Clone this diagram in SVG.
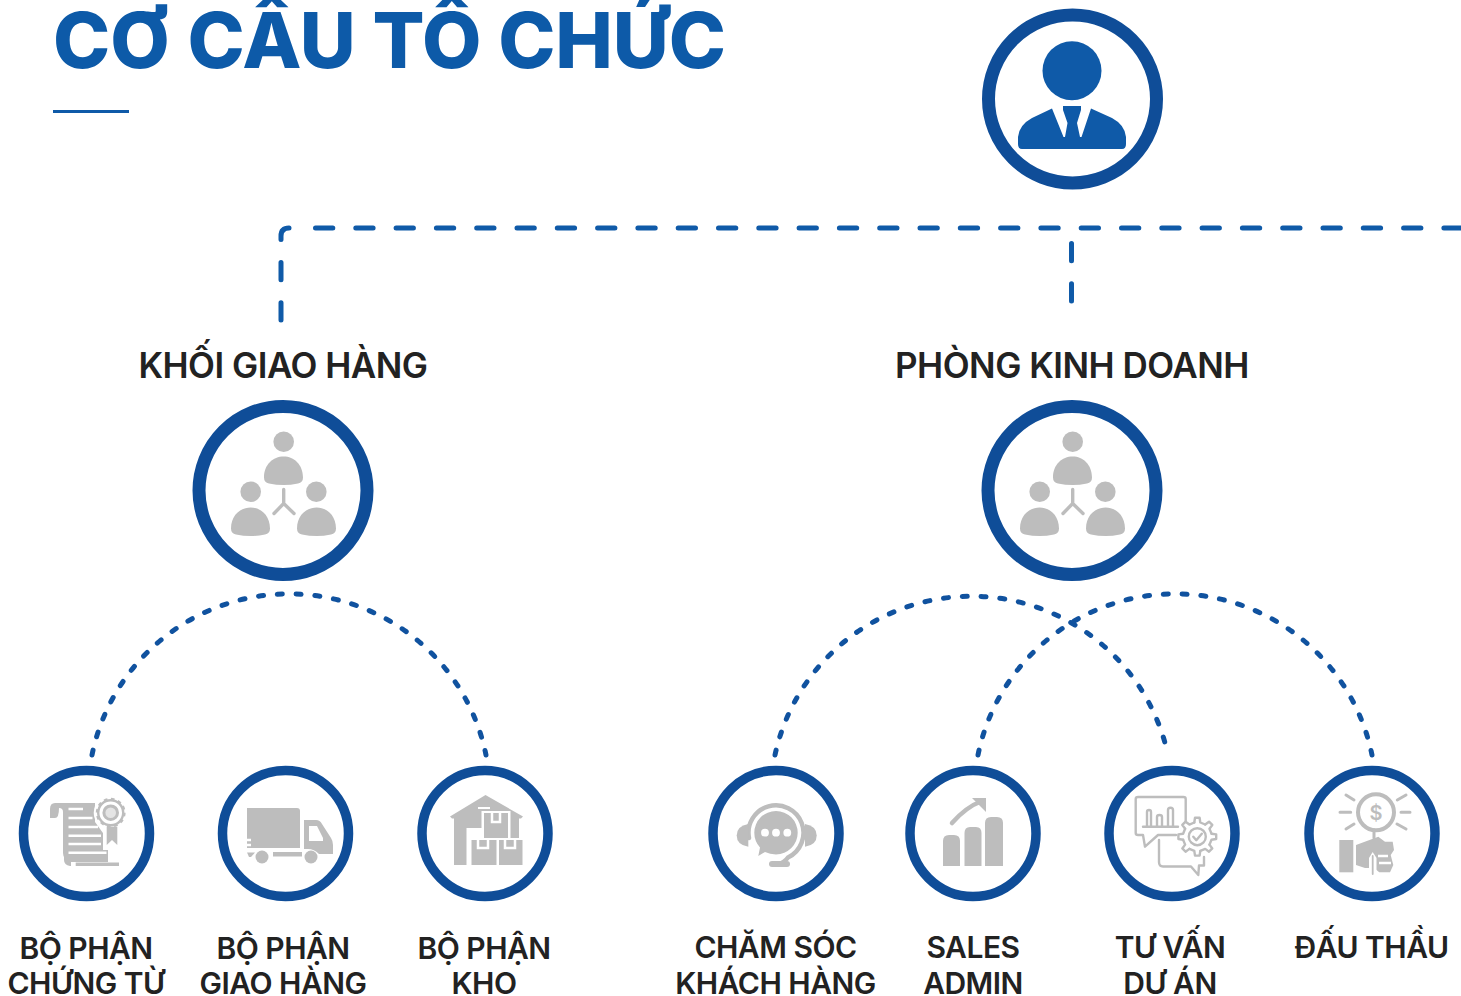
<svg xmlns="http://www.w3.org/2000/svg" width="1461" height="996" viewBox="0 0 1461 996">
<style>
.ring{fill:#fff;stroke:#0f4d98}
.big{stroke-width:13}
.small{stroke-width:9.5}
.ico{fill:#bdbdbd}
.gap{fill:#fff}
.ln{fill:none;stroke:#fff;stroke-width:2.5}
.ol{fill:none;stroke:#bdbdbd;stroke-width:2.4;stroke-linejoin:round;stroke-linecap:round}
.gl{fill:none;stroke:#bdbdbd;stroke-linecap:round}
.dash{fill:none;stroke:#0f5aa8;stroke-width:5;stroke-linecap:round;stroke-dasharray:17.3 23}
.dot{fill:none;stroke:#10529f;stroke-width:5;stroke-linecap:round;stroke-dasharray:5 13.84}
.h{font-family:Inter,"Liberation Sans",sans-serif;font-weight:600;font-size:35px;fill:#222;text-anchor:middle;letter-spacing:-.5px}
.l{font-family:Inter,"Liberation Sans",sans-serif;font-weight:600;font-size:30px;fill:#222;text-anchor:middle;letter-spacing:-.5px}
</style>
<defs>
<path id="dome" class="ico" d="M-19-13C-19-26-10-34 .7-34C11-34 20-26 20-13Q20-8 15-7Q.7-4-14-7Q-19-8-19-13Z"/>
<g id="org">
<circle cx=".7" cy="-48.7" r="10.3" class="ico"/>
<use href="#dome"/>
<circle cx="-32.3" cy="1.300" r="10.3" class="ico"/>
<use href="#dome" x="-33" y="51"/>
<circle cx="33.3" cy="1.300" r="10.3" class="ico"/>
<use href="#dome" x="33" y="51"/>
<path class="gl" stroke-width="3.4" d="M.7-1V13M.7 13L-9 23M.7 13L11 23"/>
</g>
<path id="tooth" d="M-3-14.2L-2.300-18.9H2.300L3-14.2L7.900-12.2" class="ol"/>
</defs>
<text x="53" y="67.500" font-family="Inter,'Liberation Sans',sans-serif" font-weight="800" font-size="77" letter-spacing="-.1" fill="#0d5aa8">CƠ CẤU TỔ CHỨC</text>
<rect x="53" y="110" width="76" height="3" fill="#0f5aa8"/>
<g id="connectors">
<path class="dash" d="M281 320V236Q281 228 289 228"/>
<path class="dash" d="M315.500 228H1461"/>
<path class="dash" d="M1071.500 301V243"/>
<path class="dot" d="M92 755A201 201 0 0 1 486 755"/>
<path class="dot" d="M775 755A201 201 0 0 1 1168 755"/>
<path class="dot" d="M978 755A201 201 0 0 1 1372 755"/>
</g>
<g id="n-top">
<circle class="ring big" cx="1072.500" cy="99" r="84"/>
<circle cx="1072" cy="70.700" r="29.500" fill="#0f5aa8"/>
<path fill="#0f5aa8" d="M1022 149Q1018 149 1018 144V137Q1019 125 1032 118L1052 108.500L1063.500 137H1065L1067.500 123L1063 110V106H1081V110L1077 123L1080 137H1081.500L1091 108.500L1112 118Q1125 125 1126 137V144Q1126 149 1122 149Z"/>
</g>
<g id="n-khoi">
<text class="h" x="283" y="377.500">KHỐI GIAO HÀNG</text>
<circle class="ring big" cx="283" cy="490.500" r="84"/>
<use href="#org" x="283" y="490.500"/>
</g>
<g id="n-kd">
<text class="h" x="1072" y="377.500">PHÒNG KINH DOANH</text>
<circle class="ring big" cx="1072" cy="490.500" r="84"/>
<use href="#org" x="1072" y="490.500"/>
</g>
<g id="n-chungtu">
<circle class="ring small" cx="86.500" cy="833.500" r="63"/>
<path class="ico" d="M50 818V809Q50 803 55 803H95V822L108 840V862H71Q63 860 63 853V812Q63 808 59 808Q59 818 55 818Z"/>
<path class="ln" d="M68.500 809H83M68.500 818H92.500M68.500 827H98M68.500 835.700H101M68.500 844H101M68.500 852.700H106.500"/>
<circle cx="110.700" cy="812.700" r="17" fill="#fff"/>
<rect x="103" y="824" width="18" height="26" fill="#fff"/>
<path class="ico" d="M106.700 826.700H117.300V845L112 840L106.700 845Z"/>
<circle cx="110.700" cy="812.700" r="12.500" fill="#fff" stroke="#bdbdbd" stroke-width="2.400"/>
<circle cx="110.700" cy="812.700" r="13.600" fill="none" stroke="#bdbdbd" stroke-width="2.600" stroke-dasharray="3.600 3.500"/>
<circle cx="110.700" cy="812.700" r="6.800" fill="#e4e4e4" stroke="#bdbdbd" stroke-width="3"/>
<rect x="75.700" y="862.500" width="43.300" height="3.500" class="ico"/>
<path class="ico" d="M64 855H71V866H70Q64 865 64 860Z"/>
<text class="l" x="86" y="959">BỘ PHẬN</text>
<text class="l" x="86" y="994">CHỨNG TỪ</text>
</g>
<g id="n-giaohang">
<circle class="ring small" cx="285.500" cy="833.500" r="63"/>
<path class="ico" d="M247 808H297Q300 808 300 811V848H247Z"/>
<path class="ico" d="M304 820H316Q320 820 322 824L331 838Q333 841 333 845V854H319Q314 849 308 849H304Z"/>
<path class="gap" d="M309 826H317L323 838V841H309Z"/>
<rect x="273" y="852" width="29" height="4.500" class="ico"/>
<path class="ico" d="M247 852.500H255L251 857H249Z"/>
<circle cx="262" cy="857" r="6.500" class="ico"/>
<circle cx="311" cy="857" r="6.500" class="ico"/>
<path class="ln" d="M241 840H251M241 845H251"/>
<text class="l" x="283" y="959">BỘ PHẬN</text>
<text class="l" x="283" y="994">GIAO HÀNG</text>
</g>
<g id="n-kho">
<circle class="ring small" cx="485" cy="833.500" r="63"/>
<path class="ico" d="M485.500 795L523 816.500L521 818.500H519V838H484V828H466.500V865H454V818.500H452L450 816.500Z"/>
<rect x="481.500" y="811" width="29" height="29" fill="#fff"/>
<rect x="484" y="813" width="24" height="25" class="ico"/>
<rect x="471.500" y="840" width="25" height="25" class="ico"/>
<rect x="499" y="840" width="23.500" height="25" class="ico"/>
<path class="ln" stroke-width="2" d="M492 813V822H500V813M478 840V848H488V840M505 840V848H515V840"/>
<rect x="478" y="807" width="12" height="2" fill="#fff"/>
<text class="l" x="484" y="959">BỘ PHẬN</text>
<text class="l" x="484" y="994">KHO</text>
</g>
<g id="n-cskh">
<circle class="ring small" cx="776" cy="833.500" r="63"/>
<path class="gl" stroke-width="4.500" d="M749 838A27.500 27.500 0 1 1 788 857.500Q784 863 778 864"/>
<path class="ico" d="M748.300 824V846.700Q736.700 845 736.700 835.500Q736.700 826 748.300 824Z"/>
<path class="ico" d="M805 824V846.700Q816.700 845 816.700 835.500Q816.700 826 805 824Z"/>
<path class="ico" d="M776 811A21.700 21.700 0 0 1 776 854.400Q770 854.400 765 852L758.300 856L760 847.500Q754.300 841 754.300 832.700A21.700 21.700 0 0 1 776 811Z"/>
<circle cx="765" cy="832.700" r="3.900" fill="#fff"/>
<circle cx="776" cy="832.700" r="3.900" fill="#fff"/>
<circle cx="787.300" cy="832.700" r="3.900" fill="#fff"/>
<rect x="769" y="861" width="21" height="6" rx="3" class="ico"/>
<text class="l" x="775.500" y="958">CHĂM SÓC</text>
<text class="l" x="775.500" y="994">KHÁCH HÀNG</text>
</g>
<g id="n-sales">
<circle class="ring small" cx="973" cy="833.500" r="63"/>
<path class="ico" d="M943 841Q943 835 949 835H954Q960 835 960 841V866H943Z"/>
<path class="ico" d="M964.500 833Q964.500 827 970 827H976Q981.500 827 981.500 833V866H964.500Z"/>
<path class="ico" d="M985 823Q985 817 991 817H997Q1003 817 1003 823V866H985Z"/>
<path class="gl" stroke-width="4.500" d="M952 823Q966 807 982 801"/>
<path class="ico" d="M972 798H986V812Z"/>
<text class="l" x="973" y="958">SALES</text>
<text class="l" x="973" y="994">ADMIN</text>
</g>
<g id="n-tuvan">
<circle class="ring small" cx="1172" cy="833.500" r="63"/>
<path class="ol" d="M1176 835H1158L1145 846.700L1143 835H1138Q1135.700 835 1135.700 833V799Q1135.700 797 1138 797H1183.500Q1185.700 797 1185.700 799V821"/>
<path class="ol" d="M1143 826.700H1178M1147 826.700V812Q1147 810 1149 810T1151 812V826.700M1157 826.700V817Q1157 815 1159.500 815T1162 817V826.700M1168 826.700V810Q1168 807.700 1170.500 807.700T1173 810V826.700"/>
<path class="ol" d="M1159 840V862Q1159 866.500 1163 866.500H1191L1198.300 875L1199 865.500H1204V857"/>
<g transform="translate(1197.300 836.700)">
<use href="#tooth"/><use href="#tooth" transform="rotate(45)"/><use href="#tooth" transform="rotate(90)"/><use href="#tooth" transform="rotate(135)"/><use href="#tooth" transform="rotate(180)"/><use href="#tooth" transform="rotate(225)"/><use href="#tooth" transform="rotate(270)"/><use href="#tooth" transform="rotate(315)"/>
<circle r="8.500" class="ol"/>
<path class="ol" d="M-4 0L-1 3.500L4.500-3"/>
</g>
<text class="l" x="1170" y="958">TƯ VẤN</text>
<text class="l" x="1170" y="994">DỰ ÁN</text>
</g>
<g id="n-dauthau">
<circle class="ring small" cx="1372" cy="833.500" r="63"/>
<circle cx="1376" cy="812.300" r="18" class="gl" stroke-width="4"/>
<text x="1376" y="819.500" font-family="Inter,'Liberation Sans',sans-serif" font-size="20" font-weight="600" fill="#bdbdbd" text-anchor="middle">$</text>
<path class="gl" stroke-width="3" d="M1346 795L1354 800M1340 812.300H1350.700M1346 829L1354 824M1406 795L1397.300 800M1410 812.300H1401M1406 829L1397 824M1374 830V838"/>
<rect x="1339.300" y="840" width="14" height="32.300" class="ico"/>
<path class="ico" d="M1356 845L1378.300 836.700L1385 841.700H1392.700L1394 850L1390.700 855L1393.300 865L1390 872.300H1379.300L1374 868H1365L1356 865Z"/>
<path class="gap" d="M1369 874V858L1372.700 852L1376.500 858V874Z"/>
<path class="gl" stroke-width="1.800" d="M1372.700 856V874"/>
<path class="ln" stroke-width="1.500" d="M1378 856H1388M1379 863H1391"/>
<text class="l" x="1371.500" y="958">ĐẤU THẦU</text>
</g>
</svg>
